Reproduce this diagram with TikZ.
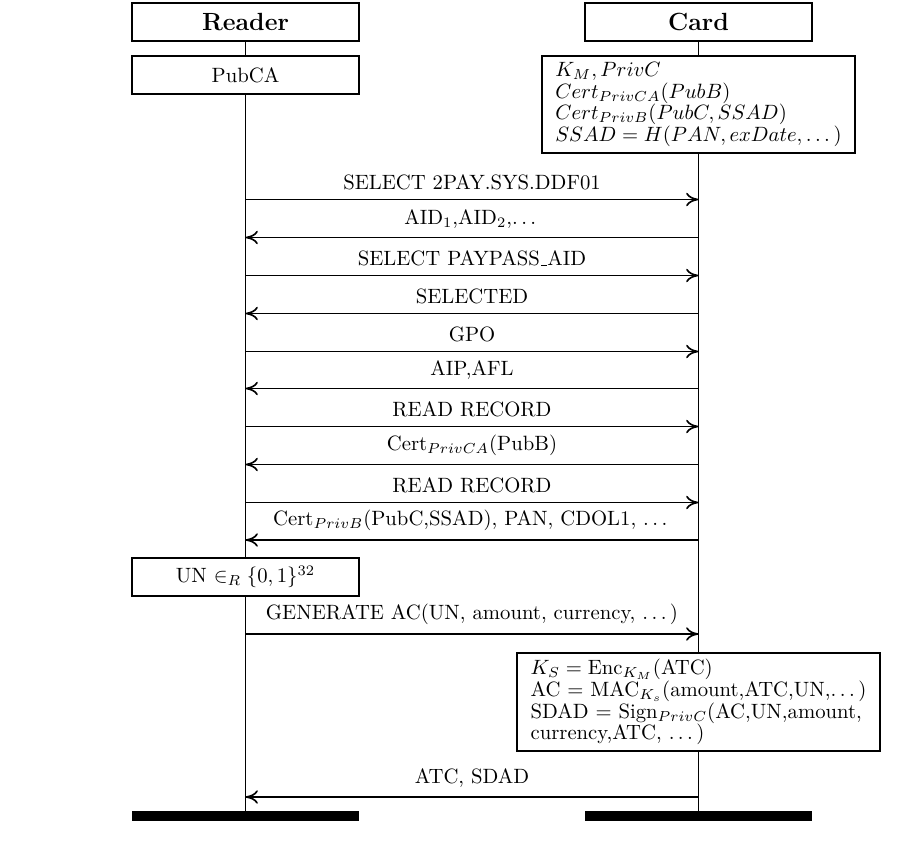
\documentclass[tikz,border=0pt]{standalone}
\usepackage{amsmath}
\usetikzlibrary{arrows.meta,backgrounds}
\newcommand\tdots{.\kern\fontdimen3\font.\kern\fontdimen3\font.\kern\fontdimen3\font}
\newcommand\lowbar{\leavevmode\kern.06em\vbox{\hrule width .3em}}
\begin{document}
\begin{tikzpicture}[x=0.483pt,y=-0.483pt,
  head/.style={draw, thick, fill=white, minimum width=109.6pt, minimum height=18.4pt, inner sep=0pt, font=\large\bfseries},
  state/.style={draw, thick, fill=white, minimum width=109.6pt, minimum height=18.4pt, inner sep=0pt},
  note/.style={draw, thick, fill=white, align=left, inner xsep=6.5pt, inner ysep=3pt},
  msg/.style={thick, -{To[length=6pt,width=6.5pt]}},
  lbl/.style={above, inner sep=4pt},
  life/.style={thick},
  endbar/.style={fill=black, inner sep=0pt, minimum width=110pt, minimum height=4.8pt}]
\useasboundingbox (0,0) rectangle (924,845);

% heads
\node[head] (reader) at (245.5,22) {Reader};
\node[head] (card) at (698.5,22) {Card};

% initial states
\node[state] (pubca) at (245.5,75) {PubCA};
\node[note] (cstate) at (698.5,104.5) {$K_M, PrivC$\\[-1.5pt]
  $Cert_{PrivCA}(PubB)$\\[-1.5pt]
  $Cert_{PrivB}(PubC, SSAD)$\\[-1.5pt]
  $SSAD = H(PAN, exDate, \dots)$};

% reader random
\node[state] (un) at (245.5,577) {UN $\in_R \{0,1\}^{32}$};

% card computation
\node[note] (comp) at (698.5,702) {$K_S = \mathrm{Enc}_{K_M}$(ATC)\\[-1.5pt]
  AC = MAC$_{K_s}$(amount,ATC,UN,\tdots)\\[-1.5pt]
  SDAD = Sign$_{PrivC}$(AC,UN,amount,\\[-1.5pt]
  currency,ATC, \tdots)};

% end bars
\node[endbar] (rend) at (245.5,816) {};
\node[endbar] (cend) at (698.5,816) {};

% lifelines
\begin{scope}[on background layer]
  \draw[life] (reader.south) -- (rend.north);
  \draw[life] (card.south) -- (cend.north);
\end{scope}

% message coordinates
\foreach \i/\y in {1/199.5,2/237.5,3/275.5,4/313.5,5/351.5,6/388.5,7/426.5,8/464.5,9/502.5,10/540,11/634,12/797}{
  \coordinate (r\i) at (245.5,\y);
  \coordinate (c\i) at (698.5,\y);
}

\draw[msg] (r1) -- node[lbl] {SELECT 2PAY.SYS.DDF01} (c1);
\draw[msg] (c2) -- node[lbl] {AID$_1$,AID$_2$,\tdots} (r2);
\draw[msg] (r3) -- node[lbl] {SELECT PAYPASS\lowbar AID} (c3);
\draw[msg] (c4) -- node[lbl] {SELECTED} (r4);
\draw[msg] (r5) -- node[lbl] {GPO} (c5);
\draw[msg] (c6) -- node[lbl] {AIP,AFL} (r6);
\draw[msg] (r7) -- node[lbl] {READ RECORD} (c7);
\draw[msg] (c8) -- node[lbl] {Cert$_{PrivCA}$(PubB)} (r8);
\draw[msg] (r9) -- node[lbl] {READ RECORD} (c9);
\draw[msg] (c10) -- node[lbl] {Cert$_{PrivB}$(PubC,SSAD), PAN, CDOL1, \tdots} (r10);
\draw[msg] (r11) -- node[lbl] {GENERATE AC(UN, amount, currency, \tdots)} (c11);
\draw[msg] (c12) -- node[lbl] {ATC, SDAD} (r12);
\end{tikzpicture}
\end{document}
